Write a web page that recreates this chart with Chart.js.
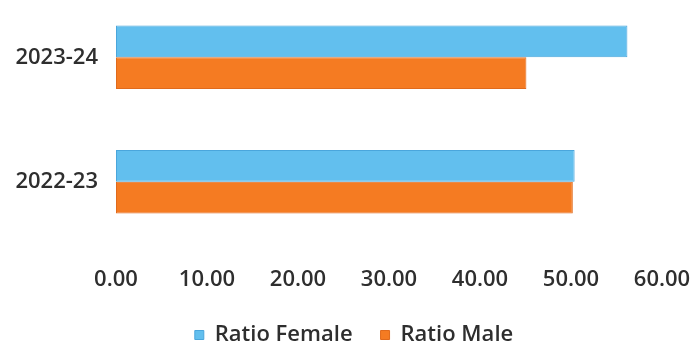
<!DOCTYPE html>
<html>
<head>
<meta charset="utf-8">
<script src="https://cdn.jsdelivr.net/npm/chart.js@4/dist/chart.umd.min.js"></script>
<style>
  html, body { margin: 0; padding: 0; background: #fff; overflow: hidden; }
  #wrap { position: absolute; left: 0; top: -5px; width: 696px; height: 361px; }
</style>
</head>
<body>
<div id="wrap"><canvas id="chart"></canvas></div>
<script>
// chart data
const years = ['2023-24', '2022-23'];
const ratioFemale = [56.2, 50.4];
const ratioMale = [45.1, 50.2];
const xTicks = [0, 10, 20, 30, 40, 50, 60];

Chart.defaults.font.family = '"Open Sans", sans-serif';
Chart.defaults.font.size = 22;
Chart.defaults.font.weight = 600;
Chart.defaults.color = '#2e2e2e';

new Chart(document.getElementById('chart'), {
  type: 'bar',
  data: {
    labels: years,
    datasets: [
      {
        label: 'Ratio Female',
        data: ratioFemale,
        backgroundColor: '#62bfee',
        borderColor: '#4aa6dc',
        borderWidth: 1,
        borderSkipped: false
      },
      {
        label: 'Ratio Male',
        data: ratioMale,
        backgroundColor: '#f57b22',
        borderColor: '#e06a1c',
        borderWidth: 1,
        borderSkipped: false
      }
    ]
  },
  options: {
    indexAxis: 'y',
    responsive: true,
    maintainAspectRatio: false,
    animation: false,
    categoryPercentage: 0.51,
    barPercentage: 1,
    layout: { padding: { left: 12, right: 0, top: 0, bottom: 0 } },
    scales: {
      x: {
        min: xTicks[0],
        max: xTicks[xTicks.length - 1],
        afterBuildTicks: axis => { axis.ticks = xTicks.map(v => ({ value: v })); },
        afterFit: scale => {
          scale.paddingLeft = 0;
          scale.paddingRight = 34;
          scale.height = 52;
        },
        grid: { display: false, drawTicks: false },
        border: { display: false },
        ticks: { padding: 23, callback: v => Number(v).toFixed(2) }
      },
      y: {
        afterFit: scale => {
          scale.width = 104;
          scale.paddingTop = 0;
          scale.paddingBottom = 0;
        },
        grid: { display: false, drawTicks: false },
        border: { display: false },
        ticks: { padding: 18 }
      }
    },
    plugins: {
      legend: {
        position: 'bottom',
        labels: { boxWidth: 9, boxHeight: 9, padding: 28 }
      },
      tooltip: { enabled: false }
    }
  }
});
</script>
</body>
</html>
